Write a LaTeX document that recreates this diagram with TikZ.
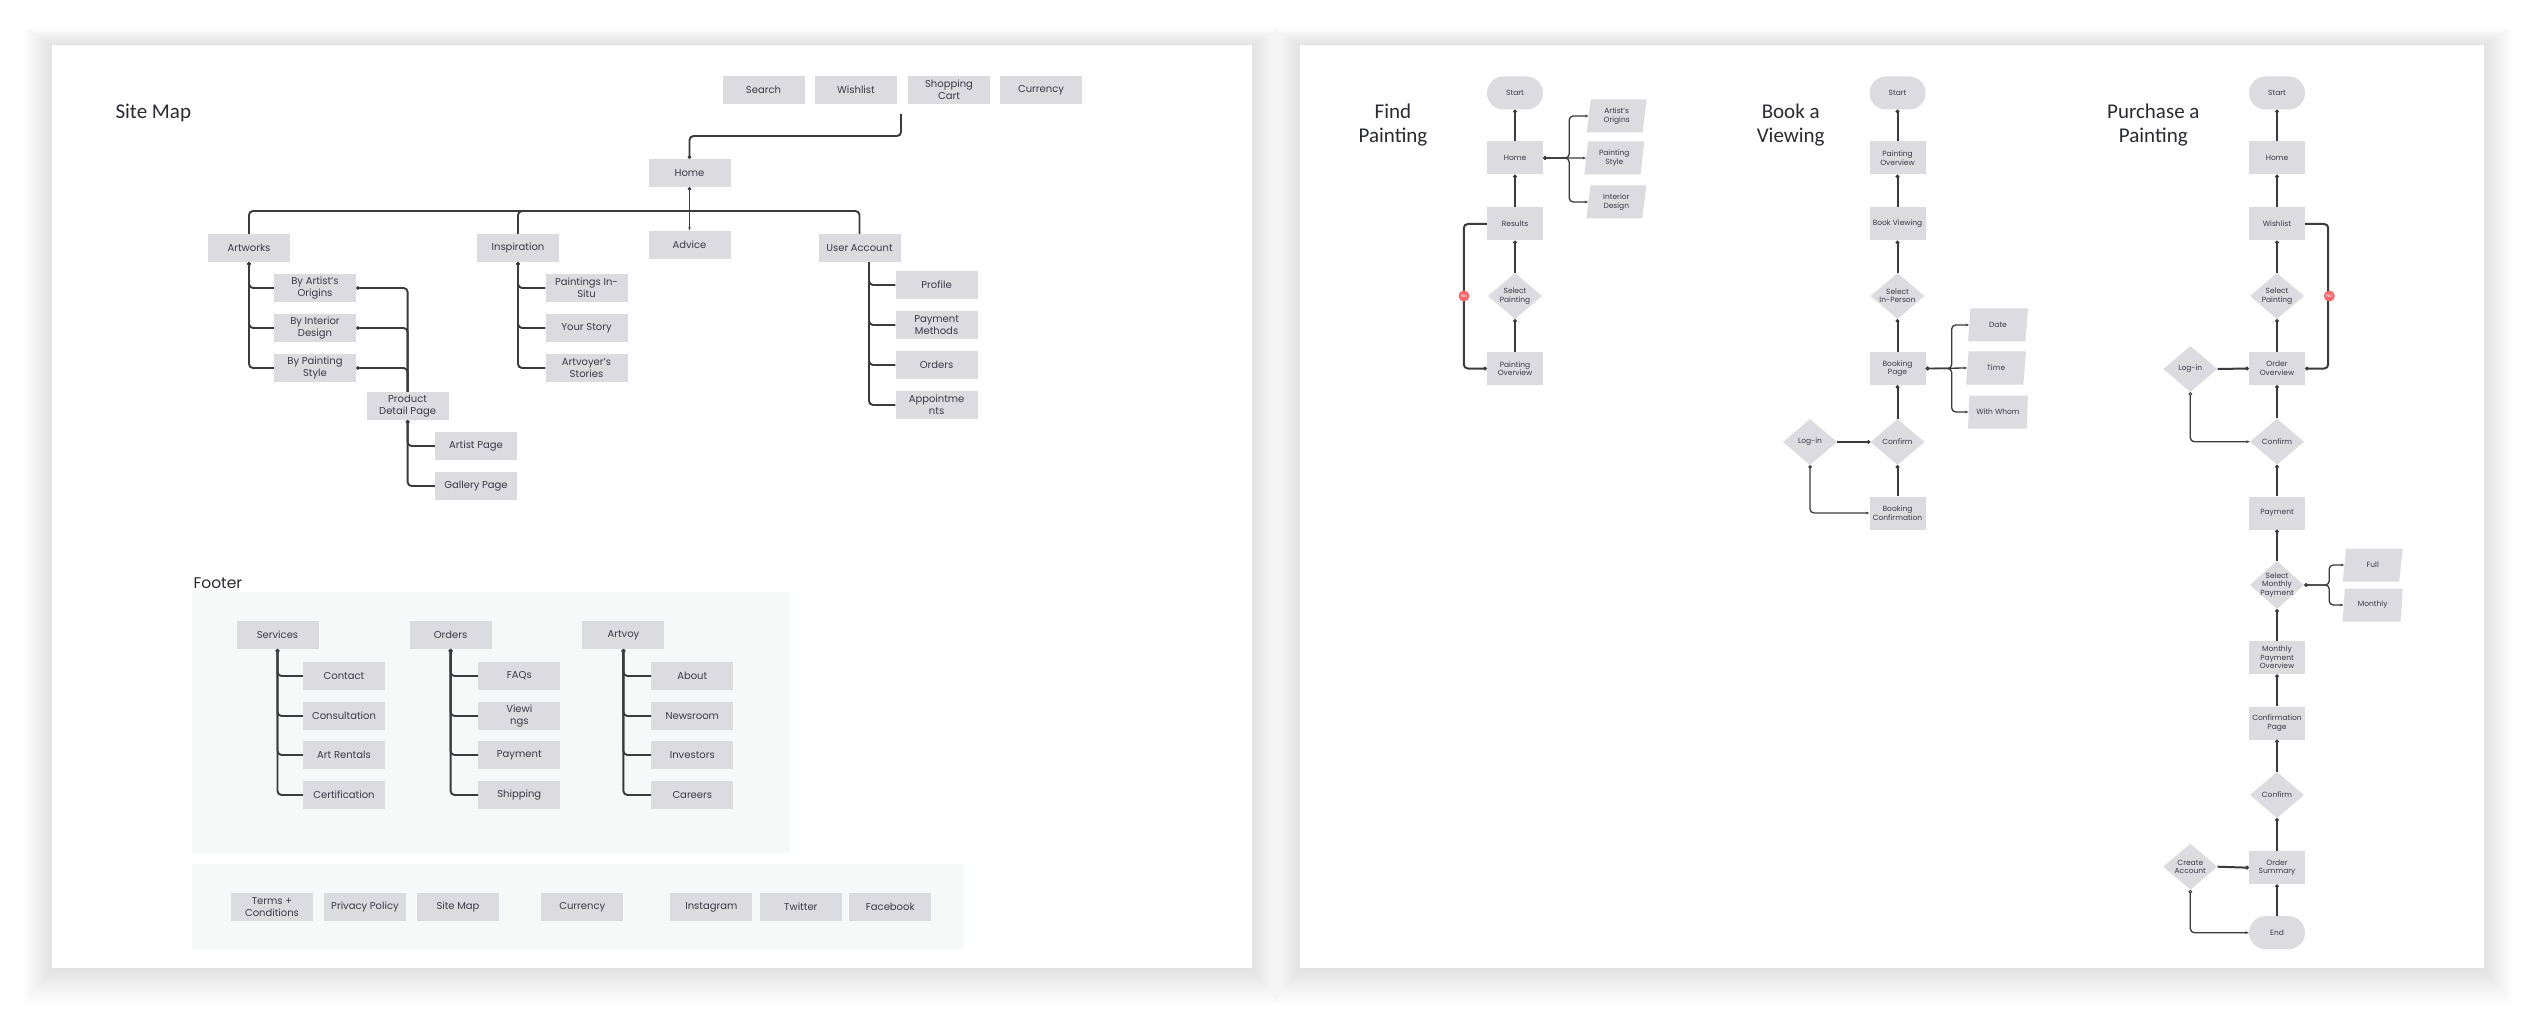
\documentclass[tikz,border=0pt]{standalone}
\usepackage{fontspec}
\setmainfont{Poppins}
\newfontfamily\headfont{Carlito}
\usetikzlibrary{arrows.meta,shapes.geometric}
\definecolor{boxgray}{HTML}{DCDBE0}
\definecolor{wire}{HTML}{3B3B3E}
\definecolor{ink}{HTML}{3A3A46}
\definecolor{head}{HTML}{2A2A33}
\definecolor{footfill}{HTML}{F7F8F8}
\definecolor{nored}{HTML}{F26A6A}

\begin{document}
\begin{tikzpicture}[x=1pt, y=-1pt,
  item/.style={rectangle, fill=boxgray, text=ink, minimum width=82pt, minimum height=28pt, inner sep=1pt, align=center, font=\fontsize{10}{12}\selectfont},
  flowbox/.style={rectangle, fill=boxgray, text=ink, minimum width=56pt, minimum height=33pt, inner sep=1pt, align=center, font=\fontsize{7.5}{8.5}\selectfont},
  terminal/.style={flowbox, rounded corners=16.5pt},
  choice/.style={diamond, fill=boxgray, minimum width=54pt, minimum height=46pt, inner sep=0pt},
  choicetext/.style={text=ink, align=center, font=\fontsize{7.5}{8.5}\selectfont},
  entry/.style={trapezium, trapezium left angle=83, trapezium right angle=97, trapezium stretches=true, fill=boxgray, text=ink, minimum width=60pt, minimum height=33pt, inner sep=1pt, align=center, font=\fontsize{7.5}{8.5}\selectfont},
  headline/.style={text=head, align=center, font=\headfont\fontsize{21}{24}\selectfont},
  link/.style={draw=wire, line width=1.9pt, rounded corners=4pt},
  root/.style={link, {Circle[length=3.4pt]}-},
  rise/.style={draw=wire, line width=2pt, rounded corners=4pt, -{Circle[length=3.6pt]}},
  fork/.style={draw=wire, line width=1.3pt, rounded corners=4pt, {Circle[open,length=3.6pt,line width=0.9pt]}-{Stealth[length=3.6pt]}},
  nobadge/.style={circle, fill=nored, text=white, inner sep=0pt, minimum size=11pt, font=\fontsize{4.5}{5}\selectfont}]

  \fill[white] (0,0) rectangle (2536,1024);
  \useasboundingbox (0,0) rectangle (2536,1024);

  % panels
  \foreach \i in {1,...,14}
    \fill[black, opacity=0.009] ({52-2*\i},{45-1.2*\i}) rectangle ({1252+2*\i},{968+2.5*\i});
  \foreach \i in {1,...,14}
    \fill[black, opacity=0.009] ({1300-2*\i},{45-1.2*\i}) rectangle ({2484+2*\i},{968+2.5*\i});
  \fill[white] (52,45) rectangle (1252,968);
  \fill[white] (1300,45) rectangle (2484,968);
  \fill[footfill] (192,592) rectangle (790,853);
  \fill[footfill] (192,864) rectangle (964,949);

  % site map
  \node[headline, anchor=west] (sitemap) at (112,113) {Site Map};
  \node[item] (search) at (763.5,90) {Search};
  \node[item] (wish) at (856,90) {Wishlist};
  \node[item] (cart) at (949,90) {Shopping\\Cart};
  \node[item] (currency) at (1041,90) {Currency};
  \node[item] (home) at (689.5,173) {Home};
  \node[item] (advice) at (689.5,245) {Advice};
  \node[item] (artworks) at (249,248) {Artworks};
  \node[item] (inspiration) at (518,248) {Inspiration};
  \node[item] (account) at (859.5,248) {User Account};
  \node[item] (bao) at (315,288) {By Artist’s\\Origins};
  \node[item] (bid) at (315,328) {By Interior\\Design};
  \node[item] (bps) at (315,368) {By Painting\\Style};
  \node[item] (pdp) at (407.6,406) {Product\\Detail Page};
  \node[item] (artist) at (476,446) {Artist Page};
  \node[item] (gallery) at (476,486) {Gallery Page};
  \node[item] (insitu) at (586.5,288) {Paintings In-\\Situ};
  \node[item] (story) at (586.5,328) {Your Story};
  \node[item] (stories) at (586.5,368) {Artvoyer’s\\Stories};
  \node[item] (profile) at (936.6,285) {Profile};
  \node[item] (methods) at (936.6,325) {Payment\\Methods};
  \node[item] (orders) at (936.6,365) {Orders};
  \node[item] (appoint) at (936.6,405) {Appointme\\nts};

  \coordinate (cartout) at (901,114);
  \coordinate (bus) at (689.5,211);
  \draw[link, -{Circle[length=3.4pt]}] (cartout) -- ++(0,22) -| (home.north);
  \draw[link, {Circle[length=3.4pt]}-{Latex[length=3.4pt]}] (home.south) -- (advice.north);
  \draw[link] (artworks.north) |- (bus) -| (account.north);
  \draw[link] (inspiration.north) |- (bus);
  \draw[root] (artworks.south) |- (bao.west);
  \draw[root] (artworks.south) |- (bid.west);
  \draw[root] (artworks.south) |- (bps.west);
  \draw[root] (bao.east) -| (pdp.north);
  \draw[root] (bid.east) -| (pdp.north);
  \draw[root] (bps.east) -| (pdp.north);
  \draw[root] (pdp.south) |- (artist.west);
  \draw[root] (pdp.south) |- (gallery.west);
  \draw[root] (inspiration.south) |- (insitu.west);
  \draw[root] (inspiration.south) |- (story.west);
  \draw[root] (inspiration.south) |- (stories.west);
  \draw[link] ([xshift=9.5pt]account.south) |- (profile.west);
  \draw[link] ([xshift=9.5pt]account.south) |- (methods.west);
  \draw[link] ([xshift=9.5pt]account.south) |- (orders.west);
  \draw[link] ([xshift=9.5pt]account.south) |- (appoint.west);

  % footer
  \node[text=head, anchor=west, font=\fontsize{15.5}{18}\selectfont] (footer) at (190,583) {Footer};
  \node[item] (services) at (277.5,635) {Services};
  \node[item] (forders) at (450.6,635) {Orders};
  \node[item] (artvoy) at (623.4,635) {Artvoy};
  \node[item] (contact) at (344,676) {Contact};
  \node[item] (consult) at (344,716) {Consultation};
  \node[item] (rentals) at (344,755) {Art Rentals};
  \node[item] (cert) at (344,795) {Certification};
  \node[item] (faqs) at (519.3,676) {FAQs};
  \node[item] (viewings) at (519.3,716) {Viewi\\ngs};
  \node[item] (fpay) at (519.3,755) {Payment};
  \node[item] (ship) at (519.3,795) {Shipping};
  \node[item] (about) at (692.3,676) {About};
  \node[item] (news) at (692.3,716) {Newsroom};
  \node[item] (investors) at (692.3,755) {Investors};
  \node[item] (careers) at (692.3,795) {Careers};
  \node[item] (terms) at (272,907) {Terms +\\Conditions};
  \node[item] (privacy) at (365,907) {Privacy Policy};
  \node[item] (smap) at (458,907) {Site Map};
  \node[item] (bcur) at (582.3,907) {Currency};
  \node[item] (insta) at (711.3,907) {Instagram};
  \node[item] (twitter) at (800.8,907) {Twitter};
  \node[item] (facebook) at (890.3,907) {Facebook};

  \draw[root] (services.south) |- (contact.west);
  \draw[root] (services.south) |- (consult.west);
  \draw[root] (services.south) |- (rentals.west);
  \draw[root] (services.south) |- (cert.west);
  \draw[root] (forders.south) |- (faqs.west);
  \draw[root] (forders.south) |- (viewings.west);
  \draw[root] (forders.south) |- (fpay.west);
  \draw[root] (forders.south) |- (ship.west);
  \draw[root] (artvoy.south) |- (about.west);
  \draw[root] (artvoy.south) |- (news.west);
  \draw[root] (artvoy.south) |- (investors.west);
  \draw[root] (artvoy.south) |- (careers.west);

  % find painting
  \node[headline] (findtitle) at (1393,125) {Find\\Painting};
  \node[terminal] (fstart) at (1515,93) {Start};
  \node[flowbox] (fhome) at (1515,158) {Home};
  \node[flowbox] (fresults) at (1515,224) {Results};
  \node[choice, label={[choicetext]center:Select\\Painting}] (fselect) at (1515,296) {};
  \node[flowbox] (fover) at (1515,368.5) {Painting\\Overview};
  \node[entry] (forig) at (1616.7,116) {Artist’s\\Origins};
  \node[entry] (fstyle) at (1614.3,158) {Painting\\Style};
  \node[entry] (finterior) at (1616.3,202) {Interior\\Design};

  \draw[rise] (fhome) -- (fstart);
  \draw[rise] (fresults) -- (fhome);
  \draw[rise] (fselect) -- (fresults);
  \draw[rise] (fover) -- (fselect);
  \draw[rise] (fresults.west) -- ++(-23,0) |- (fover.west);
  \draw[fork] (fhome.east) -- ++(26,0) |- (forig.west);
  \draw[fork] (fhome.east) -- (fstyle.west);
  \draw[fork] (fhome.east) -- ++(26,0) |- (finterior.west);
  \node[nobadge] (fno) at (1464,296) {No};

  % book a viewing
  \node[headline] (booktitle) at (1790.7,125) {Book a\\Viewing};
  \node[terminal] (bstart) at (1897.5,93) {Start};
  \node[flowbox] (bover) at (1897.5,158) {Painting\\Overview};
  \node[flowbox] (bbook) at (1897.5,224) {Book Viewing};
  \node[choice, label={[choicetext]center:Select\\In-Person}] (bselect) at (1897.5,296) {};
  \node[flowbox] (bpage) at (1897.5,368.5) {Booking\\Page};
  \node[entry] (bdate) at (1998,325) {Date};
  \node[entry] (btime) at (1996,368) {Time};
  \node[entry] (bwhom) at (1998,412) {With Whom};
  \node[choice, label={[choicetext]center:Confirm}] (bconfirm) at (1897.5,442) {};
  \node[choice, label={[choicetext]center:Log-in}] (blogin) at (1810,442) {};
  \node[flowbox] (bdone) at (1897.5,513) {Booking\\Confirmation};

  \draw[rise] (bover) -- (bstart);
  \draw[rise] (bbook) -- (bover);
  \draw[rise] (bselect) -- (bbook);
  \draw[rise] (bpage) -- (bselect);
  \draw[rise] (bconfirm) -- (bpage);
  \draw[rise] (bdone) -- (bconfirm);
  \draw[rise] (blogin.east) -- (bconfirm.west);
  \draw[fork] (bpage.east) -- ++(26,0) |- (bdate.west);
  \draw[fork] (bpage.east) -- (btime.west);
  \draw[fork] (bpage.east) -- ++(26,0) |- (bwhom.west);
  \draw[fork] (blogin.south) |- (bdone.west);

  % purchase a painting
  \node[headline] (buytitle) at (2153.3,125) {Purchase a\\Painting};
  \node[terminal] (pstart) at (2277,93) {Start};
  \node[flowbox] (phome) at (2277,158) {Home};
  \node[flowbox] (pwish) at (2277,224) {Wishlist};
  \node[choice, label={[choicetext]center:Select\\Painting}] (pselect) at (2277,296) {};
  \node[flowbox] (porder) at (2277,368.5) {Order\\Overview};
  \node[choice, label={[choicetext]center:Log-in}] (plogin) at (2190.3,369) {};
  \node[choice, label={[choicetext]center:Confirm}] (pconfirm) at (2277,441.7) {};
  \node[flowbox] (ppay) at (2277,513) {Payment};
  \node[choice, minimum height=48pt, label={[choicetext]center:Select\\Monthly\\Payment}] (pmonthly) at (2277,585) {};
  \node[entry] (pfull) at (2372.7,565) {Full};
  \node[entry] (pmon) at (2372.7,605) {Monthly};
  \node[flowbox] (povw) at (2277,657.7) {Monthly\\Payment\\Overview};
  \node[flowbox] (pconfpage) at (2277,723) {Confirmation\\Page};
  \node[choice, label={[choicetext]center:Confirm}] (pconfirm2) at (2277,795) {};
  \node[flowbox] (psummary) at (2277,867.7) {Order\\Summary};
  \node[choice, label={[choicetext]center:Create\\Account}] (pcreate) at (2190.3,866.7) {};
  \node[terminal] (pend) at (2277,932.7) {End};

  \draw[rise] (phome) -- (pstart);
  \draw[rise] (pwish) -- (phome);
  \draw[rise] (pselect) -- (pwish);
  \draw[rise] (porder) -- (pselect);
  \draw[rise] (pconfirm) -- (porder);
  \draw[rise] (ppay) -- (pconfirm);
  \draw[rise] (pmonthly) -- (ppay);
  \draw[rise] (povw) -- (pmonthly);
  \draw[rise] (pconfpage) -- (povw);
  \draw[rise] (pconfirm2) -- (pconfpage);
  \draw[rise] (psummary) -- (pconfirm2);
  \draw[rise] (pend) -- (psummary);
  \draw[rise] (pwish.east) -- ++(23,0) |- (porder.east);
  \draw[rise] (plogin.east) -- (porder.west);
  \draw[fork] (plogin.south) |- (pconfirm.west);
  \draw[fork] (pmonthly.east) -- ++(25,0) |- (pfull.west);
  \draw[fork] (pmonthly.east) -- ++(25,0) |- (pmon.west);
  \draw[rise] (pcreate.east) -- (psummary.west);
  \draw[fork] (pcreate.south) |- (pend.west);
  \node[nobadge] (pno) at (2329.3,296) {No};
\end{tikzpicture}
\end{document}
